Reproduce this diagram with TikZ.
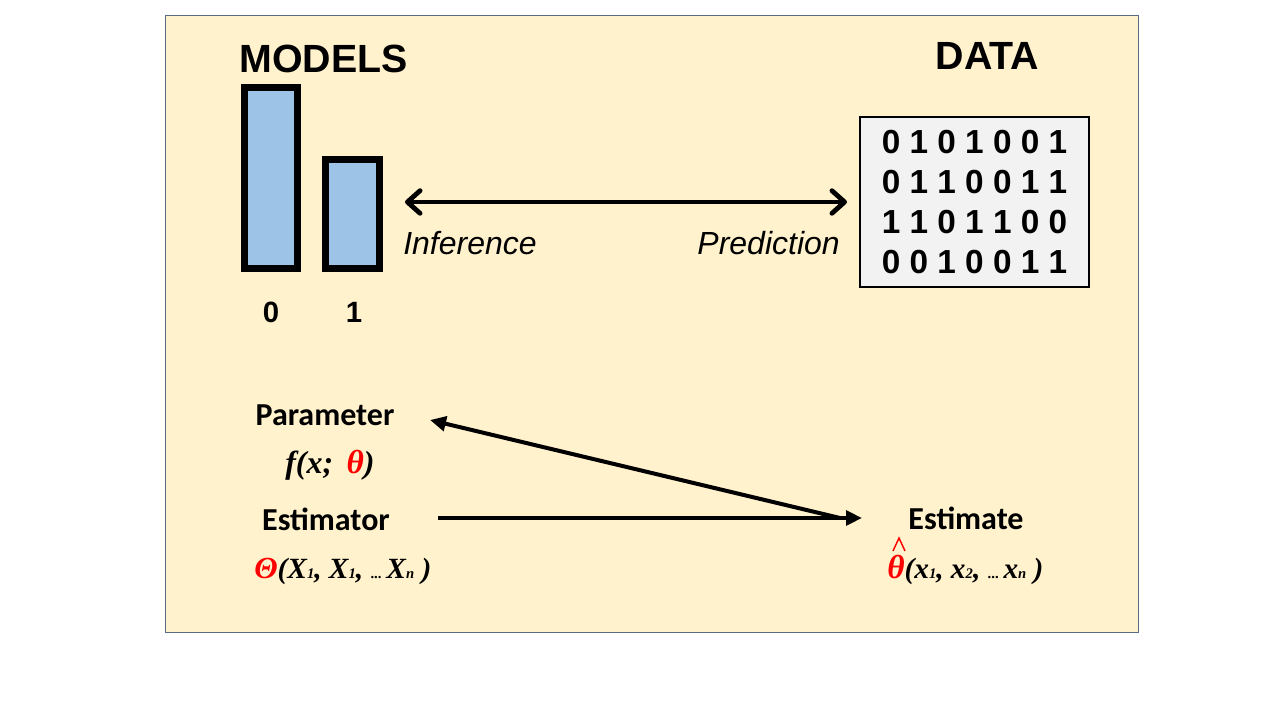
\documentclass[tikz,border=0pt]{standalone}
\usepackage{fontspec}
\setmainfont{Liberation Sans}
\newfontfamily\calib{Carlito}
\newfontfamily\tnr{Liberation Serif}
\usetikzlibrary{arrows.meta}
\definecolor{bgyellow}{HTML}{FFF2CC}
\definecolor{frameblue}{HTML}{5B6B80}
\definecolor{barblue}{HTML}{9DC3E6}
\definecolor{boxgray}{HTML}{F2F2F2}
\definecolor{eqred}{HTML}{FF0000}
\newcommand{\rd}[1]{\textcolor{eqred}{#1}}
\newcommand{\sbx}[1]{\raisebox{-0.5pt}{\fontsize{11}{11}\selectfont #1}}
\newcommand{\sdots}{{\fontsize{11}{11}\selectfont\bfseries\upshape...}}
\newcommand{\bigth}[1]{{\fontsize{25}{25}\selectfont #1}}
\begin{document}
\begin{tikzpicture}[x=0.75pt,y=-0.75pt,
  title/.style={font=\fontsize{29.5}{31}\selectfont\bfseries, inner sep=0},
  bar/.style={draw=black, line width=5.25pt, fill=barblue, inner sep=0},
  digit/.style={font=\fontsize{22}{23}\selectfont\bfseries, inner sep=0},
  lbl/.style={font=\fontsize{24}{26}\selectfont\itshape, inner sep=0},
  databox/.style={draw=black, line width=1pt, fill=boxgray, inner sep=0,
    minimum width=171.75pt, minimum height=127.5pt, align=center,
    font=\fontsize{25}{29.8}\selectfont\bfseries},
  word/.style={font=\calib\fontsize{24}{26}\selectfont\bfseries, inner sep=0},
  formula/.style={font=\tnr\fontsize{22}{24}\selectfont\bfseries\itshape, inner sep=0, anchor=base west},
  dbl/.style={line width=3.6pt, {Straight Barb[length=9.5pt,width=17pt,round]}-{Straight Barb[length=9.5pt,width=17pt,round]}},
  sarrow/.style={line width=3pt, -{Triangle[length=12pt,width=11pt]}},
  hat/.style={draw=eqred, line width=1.1pt, line join=miter}
]
\useasboundingbox (0,0) rectangle (1280,720);
\fill[white] (0,0) rectangle (1280,720);
\draw[frameblue, fill=bgyellow, line width=0.75pt] (165,16) rectangle (1138,632);

% titles
\node[title] (models) at (323.5,59) {MODELS};
\node[title] (datat) at (987.5,56) {DATA};

% bars
\node[bar, minimum width=39.75pt, minimum height=135.75pt] (bar0) at (271,178) {};
\node[bar, minimum width=40.5pt, minimum height=81.75pt] (bar1) at (352.5,214) {};
\node[digit] (l0) at (271,312.5) {0};
\node[digit] (l1) at (354,312.5) {1};

% data box
\node[databox] (data) at (974.5,202) {0 1 0 1 0 0 1\\0 1 1 0 0 1 1\\1 1 0 1 1 0 0\\0 0 1 0 0 1 1};

% inference / prediction
\coordinate (infL) at (405,202);
\coordinate (infR) at (847,202);
\draw[dbl] (infL) -- (infR);
\node[lbl, anchor=west] (inf) at (403,243) {Inference};
\node[lbl, anchor=east] (pred) at (840,243) {Prediction};

% lower section
\node[word] (param) at (325,415) {Parameter};
\node[formula, font=\tnr\fontsize{24}{26}\selectfont\bfseries\itshape] (fx) at (285,473) {f(x;\, \rd{\bigth{θ}})};
\node[word] (estor) at (326,519) {Estimator};
\node[formula] (Theta) at (254,578) {\rd{{\fontsize{23}{23}\selectfont Θ}}(X\sbx{1}, X\sbx{1}, \sdots\,X\sbx{n} )};
\node[word] (estim) at (966,518) {Estimate};
\node[formula] (thetahat) at (887,578) {\rd{\bigth{θ}}(x\sbx{1}, x\sbx{2}, \sdots\,x\sbx{n} )};
\draw[hat] (893,551) -- (899,538) -- (905,551);

\coordinate (hL) at (438,518);
\coordinate (hR) at (862,518);
\coordinate (dS) at (840,518);
\coordinate (dT) at (430,420);
\draw[sarrow] (hL) -- (hR);
\draw[sarrow] (dS) -- (dT);
\end{tikzpicture}
\end{document}
